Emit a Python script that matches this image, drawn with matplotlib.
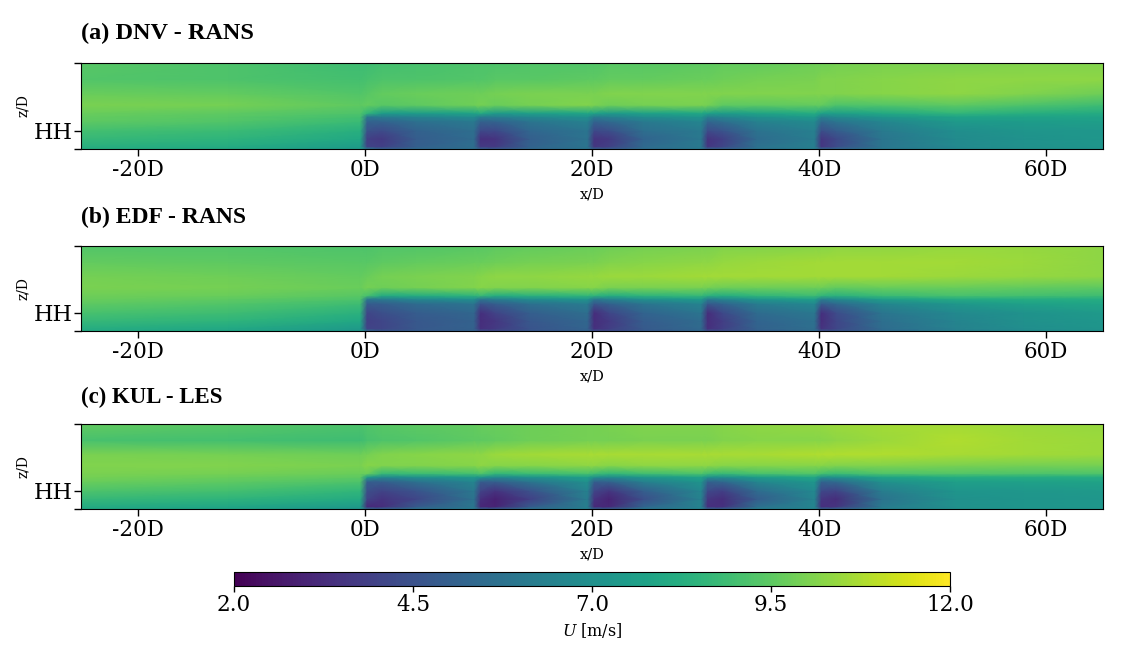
import matplotlib
matplotlib.use("Agg")
import matplotlib.pyplot as plt
import numpy as np

plt.rcParams['font.family'] = ['DejaVu Serif']
plt.rcParams['mathtext.fontset'] = 'dejavuserif'

# Stations
x_d = [-25, -12, -0.4, 0.2, 1.5, 4.5, 9.6, 10.2, 11.5, 14.5, 19.6, 20.2, 21.5, 24.5, 29.6,
       30.2, 31.5, 34.5, 39.6, 40.2, 41.5, 45.5, 52, 58, 65]
z_m = [0, 12, 50, 90, 135, 158, 175, 215, 270, 340, 420]

# Velocity tables, one row per height (bottom to top)
u_dnv = [
    [8.2, 8.0, 7.4, 6.2, 5.2, 5.5, 5.7, 5.2, 4.9, 5.4, 5.9, 5.2, 5.0, 5.6, 6.1, 5.3, 5.3, 5.9, 6.3, 5.4, 5.5, 6.1, 6.7, 7.0, 7.2],
    [8.3, 8.1, 7.5, 4.0, 3.9, 5.0, 5.6, 3.7, 3.7, 5.1, 5.9, 3.6, 3.9, 5.4, 6.1, 3.6, 4.1, 5.7, 6.3, 3.6, 4.3, 5.9, 6.7, 7.0, 7.2],
    [8.7, 8.5, 8.0, 3.9, 3.7, 4.9, 5.5, 3.4, 3.5, 5.0, 5.8, 3.5, 3.7, 5.2, 6.0, 3.5, 3.9, 5.5, 6.2, 3.6, 4.2, 5.9, 6.8, 7.1, 7.3],
    [9.0, 8.8, 8.3, 4.5, 4.3, 5.1, 5.6, 4.2, 4.2, 5.3, 5.9, 4.2, 4.4, 5.6, 6.1, 4.3, 4.6, 5.8, 6.3, 4.4, 4.9, 6.1, 6.9, 7.2, 7.3],
    [9.5, 9.3, 8.8, 5.2, 5.2, 5.7, 6.1, 5.1, 5.2, 5.9, 6.4, 5.2, 5.4, 6.1, 6.6, 5.3, 5.6, 6.4, 6.8, 5.4, 5.9, 6.6, 7.4, 7.5, 7.6],
    [9.6, 9.4, 9.0, 6.0, 6.2, 6.5, 6.9, 6.2, 6.3, 6.7, 7.1, 6.2, 6.4, 6.9, 7.3, 6.3, 6.6, 7.1, 7.5, 6.4, 6.8, 7.3, 7.8, 7.8, 7.8],
    [9.7, 9.5, 9.2, 8.6, 7.5, 7.5, 7.8, 8.1, 7.4, 7.6, 7.9, 7.8, 7.4, 7.7, 8.0, 7.7, 7.5, 7.8, 8.2, 7.7, 7.6, 8.0, 8.6, 8.3, 8.1],
    [10.0, 9.9, 9.5, 9.6, 9.4, 9.5, 9.8, 9.9, 9.7, 9.9, 10.1, 10.0, 9.8, 9.9, 10.0, 9.9, 9.5, 9.5, 9.6, 9.6, 9.2, 9.3, 9.5, 9.2, 8.9],
    [9.7, 9.6, 9.3, 9.4, 9.6, 9.7, 9.8, 9.8, 9.9, 10.0, 10.0, 10.0, 10.1, 10.1, 10.1, 10.1, 10.1, 10.1, 10.1, 10.1, 10.1, 10.2, 10.3, 10.1, 9.8],
    [9.3, 9.2, 9.0, 9.1, 9.2, 9.2, 9.3, 9.3, 9.4, 9.4, 9.5, 9.5, 9.6, 9.6, 9.7, 9.7, 9.8, 9.9, 10.0, 10.1, 10.1, 10.2, 10.3, 10.3, 10.3],
    [9.4, 9.2, 8.9, 8.9, 9.0, 9.1, 9.2, 9.2, 9.2, 9.3, 9.3, 9.3, 9.4, 9.4, 9.5, 9.5, 9.6, 9.6, 9.8, 9.8, 9.9, 10.0, 10.0, 10.1, 10.1],
]
u_edf = [
    [8.1, 7.9, 7.3, 5.6, 4.8, 4.9, 5.2, 4.6, 4.4, 4.7, 5.1, 4.6, 4.4, 4.8, 5.3, 4.6, 4.5, 5.0, 5.5, 4.8, 4.7, 5.4, 6.3, 6.8, 7.1],
    [8.2, 8.0, 7.4, 4.0, 4.1, 4.7, 5.1, 3.4, 3.7, 4.6, 5.2, 3.4, 3.8, 4.8, 5.4, 3.4, 3.9, 5.1, 5.6, 3.5, 4.1, 5.5, 6.4, 6.9, 7.2],
    [8.7, 8.5, 8.0, 3.9, 4.1, 4.7, 5.1, 3.3, 3.6, 4.7, 5.3, 3.3, 3.7, 4.9, 5.5, 3.3, 3.8, 5.2, 5.7, 3.3, 4.1, 5.6, 6.5, 7.0, 7.3],
    [9.1, 8.9, 8.4, 4.1, 4.4, 4.9, 5.3, 3.4, 4.0, 5.0, 5.6, 3.3, 4.1, 5.2, 5.9, 3.3, 4.2, 5.5, 6.0, 3.4, 4.3, 5.9, 6.7, 7.1, 7.4],
    [9.5, 9.3, 8.9, 4.9, 5.0, 5.5, 5.9, 4.6, 5.0, 5.7, 6.2, 4.7, 5.1, 5.9, 6.5, 4.8, 5.2, 6.2, 6.7, 4.9, 5.4, 6.6, 7.3, 7.7, 7.9],
    [9.7, 9.5, 9.2, 6.0, 6.2, 6.7, 7.1, 6.0, 6.3, 6.9, 7.3, 6.1, 6.4, 7.1, 7.5, 6.2, 6.6, 7.3, 7.7, 6.3, 6.8, 7.6, 8.1, 8.2, 8.2],
    [9.8, 9.7, 9.4, 9.1, 8.1, 8.2, 8.5, 8.7, 8.2, 8.4, 8.6, 8.5, 8.2, 8.5, 8.7, 8.4, 8.2, 8.6, 8.9, 8.6, 8.4, 8.8, 9.1, 9.0, 8.9],
    [10.0, 9.9, 9.7, 9.9, 9.8, 9.9, 10.1, 10.2, 10.1, 10.1, 10.2, 10.2, 10.0, 10.0, 10.0, 9.9, 9.8, 9.8, 9.8, 9.8, 9.6, 9.7, 9.7, 9.6, 9.5],
    [9.9, 9.8, 9.6, 9.7, 9.9, 10.0, 10.1, 10.2, 10.3, 10.3, 10.4, 10.4, 10.5, 10.5, 10.6, 10.6, 10.6, 10.6, 10.6, 10.6, 10.6, 10.6, 10.5, 10.4, 10.3],
    [9.6, 9.5, 9.4, 9.4, 9.5, 9.6, 9.7, 9.7, 9.8, 9.9, 10.0, 10.0, 10.1, 10.2, 10.3, 10.3, 10.4, 10.5, 10.6, 10.6, 10.6, 10.6, 10.6, 10.5, 10.3],
    [9.3, 9.3, 9.2, 9.2, 9.3, 9.3, 9.4, 9.4, 9.5, 9.6, 9.7, 9.7, 9.8, 9.9, 10.0, 10.0, 10.1, 10.1, 10.2, 10.2, 10.3, 10.3, 10.4, 10.4, 10.3],
]
u_kul = [
    [8.0, 7.8, 7.2, 5.6, 5.3, 5.9, 6.2, 5.2, 5.1, 5.9, 6.3, 5.3, 5.2, 6.1, 6.5, 5.3, 5.3, 6.3, 6.6, 5.3, 5.4, 6.4, 7.0, 7.2, 7.3],
    [8.1, 7.9, 7.4, 3.2, 3.3, 4.8, 6.0, 3.1, 3.0, 4.8, 6.3, 3.2, 3.1, 5.2, 6.5, 3.4, 3.4, 5.6, 6.6, 3.4, 3.5, 6.1, 7.0, 7.2, 7.3],
    [8.7, 8.5, 8.1, 4.0, 3.5, 4.1, 5.8, 3.4, 2.9, 3.9, 6.2, 3.5, 3.0, 4.4, 6.4, 3.6, 3.3, 4.9, 6.5, 3.6, 3.3, 5.8, 7.0, 7.2, 7.3],
    [9.2, 9.0, 8.6, 4.4, 4.0, 4.6, 6.0, 4.0, 3.5, 4.5, 6.4, 4.1, 3.6, 5.0, 6.6, 4.2, 3.9, 5.5, 6.7, 4.2, 4.0, 6.2, 7.2, 7.3, 7.4],
    [9.7, 9.5, 9.2, 5.0, 5.0, 5.7, 6.6, 4.9, 5.0, 5.9, 7.0, 5.0, 5.1, 6.3, 7.2, 5.1, 5.3, 6.6, 7.3, 5.2, 5.4, 7.0, 7.6, 7.7, 7.8],
    [9.9, 9.7, 9.5, 7.4, 6.7, 7.0, 7.4, 7.2, 6.7, 7.1, 7.7, 7.0, 6.8, 7.3, 7.8, 7.0, 6.9, 7.5, 8.0, 7.0, 7.1, 7.8, 8.2, 8.2, 8.2],
    [10.0, 9.9, 9.7, 9.7, 8.7, 8.8, 9.0, 9.2, 8.6, 8.8, 9.1, 8.9, 8.6, 8.9, 9.2, 8.9, 8.7, 9.1, 9.3, 9.0, 8.8, 9.2, 9.3, 9.2, 9.2],
    [10.1, 10.1, 10.0, 10.2, 10.1, 10.1, 10.2, 10.3, 10.2, 10.2, 10.3, 10.3, 10.2, 10.3, 10.3, 10.3, 10.2, 10.2, 10.2, 10.2, 10.1, 10.1, 10.0, 9.9, 9.9],
    [10.0, 9.9, 9.8, 9.9, 10.1, 10.2, 10.3, 10.3, 10.5, 10.6, 10.7, 10.7, 10.7, 10.7, 10.7, 10.7, 10.7, 10.7, 10.8, 10.8, 10.8, 10.8, 10.7, 10.6, 10.5],
    [9.1, 9.0, 8.9, 9.1, 9.2, 9.3, 9.5, 9.5, 9.6, 9.8, 9.9, 9.9, 9.9, 10.0, 10.0, 10.0, 10.1, 10.2, 10.2, 10.2, 10.3, 10.5, 10.8, 10.6, 10.5],
    [9.6, 9.4, 9.2, 9.3, 9.4, 9.5, 9.6, 9.7, 9.7, 9.8, 9.9, 9.9, 10.0, 10.1, 10.1, 10.1, 10.2, 10.3, 10.4, 10.4, 10.5, 10.6, 10.6, 10.5, 10.4],
]

titles = ["(a) DNV - RANS", "(b) EDF - RANS", "(c) KUL - LES"]
x_ticks = [-20, 0, 20, 40, 60]
x_tick_labels = ["-20D", "0D", "20D", "40D", "60D"]
cbar_ticks = [2.0, 4.5, 7.0, 9.5, 12.0]

W, H = 1126, 654
# pixel boxes (left, top, right, bottom) of the three panels
boxes = [(81, 63, 1103, 149), (81, 246, 1103, 331), (81, 424, 1103, 509)]
title_y = [33, 217, 397]
title_size = [17.5, 17, 16.5]


def add_axes_px(fig, left, top, right, bottom):
    return fig.add_axes([left / W, 1 - bottom / H, (right - left) / W, (bottom - top) / H])


fig = plt.figure(figsize=(W / 100, H / 100), dpi=100)

mesh = None
for i, table in enumerate([u_dnv, u_edf, u_kul]):
    ax = add_axes_px(fig, *boxes[i])
    mesh = ax.pcolormesh(x_d, z_m, np.array(table), shading='gouraud',
                         cmap='viridis', vmin=2, vmax=12)
    ax.set_xlim(-25, 65)
    ax.set_ylim(0, 420)
    ax.set_xticks(x_ticks)
    ax.set_xticklabels(x_tick_labels)
    ax.set_yticks([0, 90, 420])
    ax.set_yticklabels(["", "HH", ""])
    ax.tick_params(axis='x', labelsize=15.5, length=5, width=1, pad=2)
    ax.tick_params(axis='y', labelsize=16, length=5, width=1, pad=1)
    ax.set_xlabel("x/D", fontsize=10.5, labelpad=5)
    ax.set_ylabel("z/D", fontsize=10, labelpad=3)
    fig.text(81 / W, 1 - title_y[i] / H, titles[i], family='Liberation Serif',
             fontweight='bold', fontsize=title_size[i], va='center', ha='left')

cax = add_axes_px(fig, 234, 572, 950, 586)
cbar = fig.colorbar(mesh, cax=cax, orientation='horizontal')
cbar.set_ticks(cbar_ticks)
cbar.set_ticklabels([f"{t:.1f}" for t in cbar_ticks])
cbar.ax.tick_params(labelsize=15.5, length=4, width=1, pad=2)
cbar.set_label("$U$ [m/s]", fontsize=11.5, labelpad=3)

fig.savefig("out.png", dpi=100)
